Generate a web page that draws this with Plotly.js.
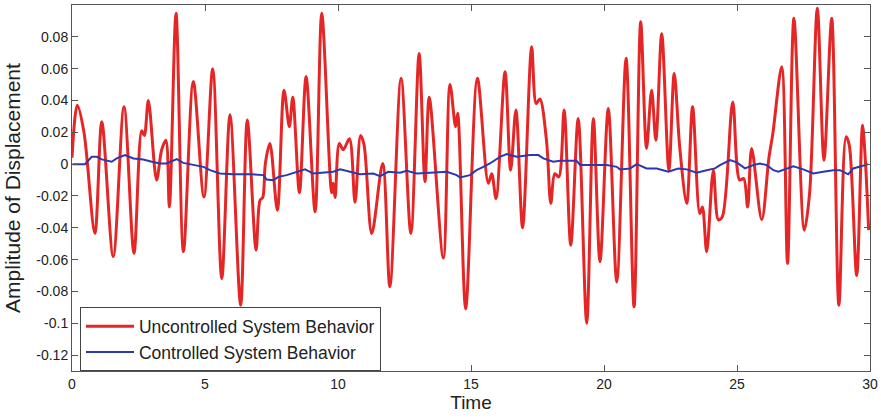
<!DOCTYPE html>
<html>
<head>
<meta charset="utf-8">
<script src="https://cdn.plot.ly/plotly-3.0.1.min.js"></script>
<style>html,body{margin:0;padding:0;background:#fff;}#chart{width:881px;height:418px;}</style>
</head>
<body>
<div id="chart"></div>
<script>
// Uncontrolled system (red) — extrema
const timeUncontrolled = [
  0, 0.2, 0.45, 0.86, 1.12, 1.55, 1.955, 2.33, 2.62, 2.72, 2.87, 3.18, 3.37, 3.53, 3.66, 3.91, 4.19, 4.56, 4.96,
  5.29, 5.63, 5.94, 6.34, 6.59, 6.92, 7.07, 7.17, 7.27, 7.44, 7.72, 7.97, 8.17, 8.30, 8.55, 8.80, 9.14, 9.39, 9.76, 9.82, 9.89,
  10.05, 10.2, 10.43, 10.64, 10.85, 10.98, 11.27, 11.68, 11.95, 12.37, 12.74, 13.05, 13.27, 13.43, 13.96, 14.21, 14.42, 14.5, 14.80,
  15.24, 15.65, 15.78, 15.94, 16.28, 16.49, 16.69, 16.94, 17.28, 17.45, 17.59, 17.84, 18.0, 18.15, 18.3, 18.50, 18.75, 19.03, 19.35, 19.60, 19.85,
  20.16, 20.48, 20.83, 21.13, 21.38, 21.60, 21.79, 21.95, 22.17, 22.44, 22.64, 22.85, 23.11, 23.33, 23.6, 23.7, 23.86, 24.11, 24.30, 24.45, 24.84,
  25.1, 25.25, 25.40, 25.55, 25.93, 26.2, 26.35, 26.68, 26.90, 27.14, 27.53, 27.73, 28.02, 28.27, 28.56, 28.83, 29.10, 29.22, 29.50, 29.72, 29.82, 29.95
];
const ampUncontrolled = [
  0.004, 0.037, 0.02, -0.0435, 0.0266, -0.058, 0.036, -0.056, 0.021, 0.018, 0.040, -0.010, 0.009, 0.015, -0.027, 0.0948, -0.055, 0.052, -0.0206,
  0.060, -0.072, 0.031, -0.0887, 0.0277, -0.054, -0.0226, -0.021, 0.0005, 0.013, -0.029, 0.0465, 0.0235, 0.042, -0.018, 0.055, -0.030, 0.0948, -0.018, -0.012, -0.021,
  0.013, 0.009, 0.016, -0.024, 0.018, 0.012, -0.0436, 0.0004, -0.077, 0.054, -0.0436, 0.0696, -0.011, 0.042, -0.059, 0.050, 0.0235, 0.032, -0.091,
  0.054, -0.012, -0.006, -0.0216, 0.058, -0.0038, 0.034, -0.040, 0.0738, 0.038, 0.041, 0.0145, -0.0247, -0.006, -0.008, 0.034, -0.051, 0.0287, -0.100, 0.0287, -0.0614,
  0.035, -0.074, 0.0665, -0.0897, 0.0895, 0.0099, 0.0465, 0.015, 0.082, -0.0038, 0.057, 0.01, -0.0247, 0.036, -0.031, -0.027, -0.055, -0.0038, -0.035, -0.033, 0.039,
  -0.010, -0.009, -0.027, 0.0099, -0.035, 0.004, 0.0195, 0.0612, -0.0625, 0.0916, -0.0415, -0.018, 0.098, 0.0025, 0.0916, -0.0887, 0.0172, 0.012, -0.070, 0.0245, 0.004, -0.0415
];

// Controlled system (blue)
const timeControlled = [
  0.02, 0.49, 0.74, 0.93, 1.12, 1.49, 1.68, 1.99, 2.31, 2.68, 3.0, 3.31, 3.56, 3.94, 4.18, 4.56, 4.94,
  5.19, 5.56, 6.06, 6.69, 7.19, 7.32, 7.57, 7.76, 8.07, 8.45, 8.76, 9.07, 9.45, 9.82, 10.08, 10.45,
  10.83, 11.33, 11.58, 11.89, 12.33, 12.58, 12.96, 13.46, 14.09, 14.46, 14.59, 14.96, 15.21, 15.46, 15.71,
  16.09, 16.34, 16.72, 17.22, 17.53, 17.72, 18.09, 18.35, 18.6, 18.97, 19.1, 19.6, 20.1, 20.48, 20.6, 20.98,
  21.23, 21.6, 21.98, 22.42, 22.79, 23.11, 23.48, 23.86, 24.17, 24.36, 24.61, 24.74, 24.99, 25.3, 25.61, 25.86,
  26.12, 26.37, 26.55, 26.87, 27.12, 27.49, 27.87, 28.24, 28.62, 28.87, 29.18, 29.37, 29.62, 29.94
];
const ampControlled = [
  0, 0, 0.0046, 0.0046, 0.003, 0.0015, 0.0036, 0.0057, 0.0036, 0.0029, 0.0015, 0.0004, 0.0004, 0.0031, 0.0008, -0.0006, -0.0017,
  -0.0038, -0.0059, -0.0063, -0.0063, -0.0069, -0.0097, -0.0101, -0.008, -0.0069, -0.0048, -0.0033, -0.0059, -0.0054, -0.0048, -0.0033, -0.0048,
  -0.0063, -0.0059, -0.0075, -0.0048, -0.0054, -0.0042, -0.0059, -0.0054, -0.0048, -0.0069, -0.0084, -0.0069, -0.0038, -0.0017, 0.0004,
  0.0046, 0.0063, 0.0046, 0.0057, 0.0057, 0.0036, 0.0015, 0.0021, 0.0021, 0.0021, -0.0006, -0.0006, -0.0006, -0.0017, -0.0033, -0.0027,
  0, -0.0027, -0.0027, -0.0048, -0.0027, -0.0033, -0.0054, -0.0038, -0.0027, -0.0006, 0.0015, 0.0025, 0.0011, -0.0027, -0.0006, 0.0004,
  -0.0006, -0.0038, -0.0048, -0.0027, -0.0013, -0.0033, -0.0059, -0.0048, -0.0038, -0.0038, -0.0064, -0.0027, -0.0017, 0
];

const xTickVals = [0, 5, 10, 15, 20, 25, 30];
const xTickText = ["0", "5", "10", "15", "20", "25", "30"];
const yTickVals = [-0.12, -0.1, -0.08, -0.06, -0.04, -0.02, 0, 0.02, 0.04, 0.06, 0.08];
const yTickText = ["-0.12", "-0.1", "-0.08", "-0.06", "-0.04", "-0.02", "0", "0.02", "0.04", "0.06", "0.08"];
const seriesNames = ["Uncontrolled System Behavior", "Controlled System Behavior"];

const font = "Arial, 'Liberation Sans', Helvetica, sans-serif";
const traces = [
  {x: timeUncontrolled, y: ampUncontrolled, name: seriesNames[0], type: "scatter", mode: "lines",
   line: {color: "rgb(228,38,38)", width: 3, shape: "spline", smoothing: 0.9}},
  {x: timeControlled, y: ampControlled, name: seriesNames[1], type: "scatter", mode: "lines",
   line: {color: "rgb(45,55,175)", width: 2}}
];
const axisCommon = {
  showline: true, mirror: "ticks", linecolor: "#555", linewidth: 1,
  ticks: "inside", ticklen: 6, tickcolor: "#555", tickwidth: 1,
  showgrid: false, zeroline: false,
  tickfont: {family: font, size: 14, color: "#222"}
};
const layout = {
  width: 881, height: 418,
  margin: {l: 72, r: 11, t: 5, b: 47},
  paper_bgcolor: "#fff", plot_bgcolor: "#fff",
  font: {family: font, color: "#222"},
  showlegend: true,
  legend: {
    x: 0.01, y: 0.174, xanchor: "left", yanchor: "top",
    bgcolor: "#fff", bordercolor: "#444", borderwidth: 1,
    font: {family: font, size: 17.5, color: "#222"},
    itemwidth: 48, tracegroupgap: 0
  },
  xaxis: Object.assign({}, axisCommon, {
    range: [0, 30], tickmode: "array", tickvals: xTickVals, ticktext: xTickText,
    title: {text: "Time", font: {family: font, size: 19, color: "#222"}, standoff: 2}
  }),
  yaxis: Object.assign({}, axisCommon, {
    range: [-0.13, 0.1], tickmode: "array", tickvals: yTickVals, ticktext: yTickText,
    title: {text: "Amplitude of Displacement", font: {family: font, size: 21, color: "#222"}, standoff: 9}
  })
};
Plotly.newPlot("chart", traces, layout, {displayModeBar: false, staticPlot: true});
</script>
</body>
</html>
